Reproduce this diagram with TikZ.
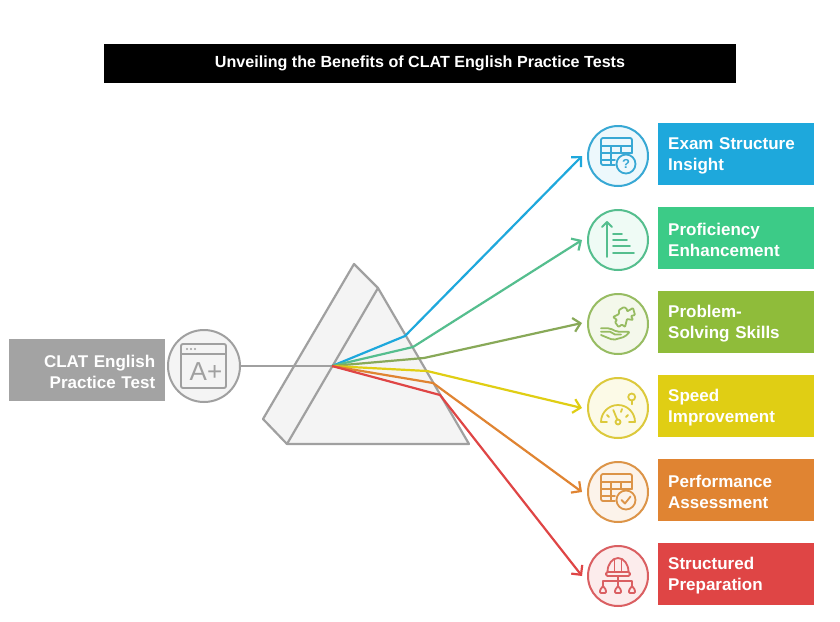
\documentclass[tikz,border=0pt]{standalone}
\usepackage{fontspec}
\setmainfont{Liberation Sans}
\usetikzlibrary{arrows.meta}

\definecolor{bluebar}{HTML}{1EA8DC}
\definecolor{greenbar}{HTML}{3CCB87}
\definecolor{olivebar}{HTML}{8FBC3A}
\definecolor{yellowbar}{HTML}{E0CE14}
\definecolor{orangebar}{HTML}{E08432}
\definecolor{redbar}{HTML}{DF4545}
\definecolor{greybar}{HTML}{A3A3A3}
\definecolor{greyline}{HTML}{A0A0A0}
\definecolor{prismfill}{HTML}{F4F4F4}
\definecolor{bluepen}{HTML}{38A8D4}
\definecolor{greenpen}{HTML}{55BE8E}
\definecolor{olivepen}{HTML}{97BC62}
\definecolor{yellowpen}{HTML}{DCC93C}
\definecolor{orangepen}{HTML}{DC9448}
\definecolor{redpen}{HTML}{DA5F62}

\tikzset{
	bar/.style={anchor=north west,minimum width=156,minimum height=62,inner xsep=10,inner ysep=0,text width=136,align=left,text=white,font=\fontsize{17}{21}\selectfont\bfseries,execute at begin node={\rule{0pt}{15.5pt}}},
	disc/.style={circle,line width=2,minimum size=60,inner sep=0},
	ray/.style={line width=2.2,line join=round},
	tipped/.style={ray,-{Straight Barb[length=7,width=14]}},
	icon/.style={line width=1.8,line join=round,line cap=round},
	prismline/.style={greyline,line width=2.2,line join=round},
}

\newcommand{\tablepic}[1]{
	\draw[icon,#1,rounded corners=2] (14,-3) -- (14,-18) -- (-17,-18) -- (-17,9) -- (-3,9);
	\draw[icon,#1] (-17,-10) -- (14,-10) (-17,-3) -- (14,-3) (-17,4) -- (-3,4) (-7,-10) -- (-7,9) (3,-10) -- (3,-3);
	\draw[icon,#1] (8,8) circle (9.5);
}

\begin{document}
\begin{tikzpicture}[x=1pt,y=-1pt]
	\useasboundingbox (0,0) rectangle (840,621);
	\fill[white] (0,0) rectangle (840,621);

	\node[fill=black,text=white,minimum width=632,minimum height=39,inner sep=0,font=\fontsize{16.1}{18}\selectfont\bfseries] (title) at (420,63.5) {\raisebox{-1pt}{Unveiling the Benefits of CLAT English Practice Tests}};

	% prism
	\coordinate (backtop) at (354,264);
	\coordinate (fronttop) at (378,288);
	\coordinate (frontright) at (469,444);
	\coordinate (frontleft) at (287,444);
	\coordinate (backleft) at (263,419);
	\coordinate (focus) at (332,366);
	\filldraw[prismline,fill=prismfill] (backtop) -- (fronttop) -- (frontright) -- (frontleft) -- (backleft) -- cycle;
	\draw[prismline] (fronttop) -- (frontleft);

	% input
	\node[bar,fill=greybar,align=right] (inputbar) at (9,339) {CLAT English\\Practice Test};
	\node[disc,draw=greyline,fill=prismfill,minimum size=72] (inputdisc) at (204,366) {};
	\draw[prismline] (inputdisc) -- (focus);
	\draw[icon,greyline,line width=1.9,rounded corners=2] (181,344) rectangle (226,388);
	\draw[icon,greyline,line width=1.9] (181,354) -- (226,354);
	\fill[greyline] (187,349) circle (1.2) (191,349) circle (1.2) (195,349) circle (1.2);
	\node[text=greyline,inner sep=0,font=\fontsize{26}{26}\selectfont] (grade) at (206,372) {A+};

	% rays
	\coordinate (bendblue) at (405,336);
	\coordinate (bendgreen) at (413,347);
	\coordinate (bendolive) at (424,358);
	\coordinate (bendyellow) at (427,371);
	\coordinate (bendorange) at (433,383);
	\coordinate (bendred) at (440,395);
	\coordinate (tipblue) at (582,156);
	\coordinate (tipgreen) at (582,240);
	\coordinate (tipolive) at (582,323);
	\coordinate (tipyellow) at (582,408);
	\coordinate (tiporange) at (582,492);
	\coordinate (tipred) at (582,576);
	\draw[tipped,bluebar] (focus) -- (bendblue) -- (tipblue);
	\draw[tipped,greenpen] (focus) -- (bendgreen) -- (tipgreen);
	\draw[tipped,olivepen!90!black] (focus) -- (bendolive) -- (tipolive);
	\draw[tipped,yellowbar] (focus) -- (bendyellow) -- (tipyellow);
	\draw[tipped,orangebar] (focus) -- (bendorange) -- (tiporange);
	\draw[tipped,redbar] (focus) -- (bendred) -- (tipred);

	% circles
	\node[disc,draw=bluepen,fill=bluebar!8] (discblue) at (618,156) {};
	\node[disc,draw=greenpen,fill=greenbar!8] (discgreen) at (618,240) {};
	\node[disc,draw=olivepen,fill=olivebar!10] (discolive) at (618,324) {};
	\node[disc,draw=yellowpen,fill=yellowbar!10] (discyellow) at (618,408) {};
	\node[disc,draw=orangepen,fill=orangebar!10] (discorange) at (618,492) {};
	\node[disc,draw=redpen,fill=redbar!10] (discred) at (618,576) {};

	% bars
	\node[bar,fill=bluebar] (barblue) at (658,123) {Exam Structure\\Insight};
	\node[bar,fill=greenbar] (bargreen) at (658,207) {Proficiency\\Enhancement};
	\node[bar,fill=olivebar] (barolive) at (658,291) {Problem-\\Solving Skills};
	\node[bar,fill=yellowbar] (baryellow) at (658,375) {Speed\\Improvement};
	\node[bar,fill=orangebar] (barorange) at (658,459) {Performance\\Assessment};
	\node[bar,fill=redbar] (barred) at (658,543) {Structured\\Preparation};

	% exam structure icon
	\begin{scope}[shift={(618,156)}]
		\tablepic{bluepen}
		\node[text=bluepen,inner sep=0,font=\fontsize{13}{13}\selectfont\bfseries] (query) at (8,8) {?};
	\end{scope}

	% proficiency icon
	\begin{scope}[shift={(618,240)},icon,greenpen]
		\draw (-11,17) -- (-11,-18);
		\draw (-16,-13) -- (-11,-18) -- (-6,-13);
		\draw (-5,-6) -- (4,-6) (-5,0) -- (9,0) (-5,6) -- (12,6) (-5,13) -- (16,13);
	\end{scope}

	% problem solving icon
	\begin{scope}[shift={(618,324)},icon,olivepen]
		\draw[rounded corners=0.8] (-5,-7) -- (1,-10) -- (1,-14) -- (6,-17) -- (9,-15) -- (9,-12.5) -- (15,-16) -- (17,-9) -- (13,-8) -- (15,-4) -- (9,-5) -- (7,3) -- (4,0.5) -- (0.5,3) -- (-3,-2) -- (-1,-4) -- cycle;
		\draw[rounded corners=2] (-17,4.3) -- (-8,4.3) -- (-1.3,7.7) -- (12,7.7) -- (7,12.7) -- (-4.7,16) -- (-13,12.7) -- (-17,11);
		\draw (-17,7.7) -- (-8,7.7) -- (-3,10.5) -- (3,10.5);
	\end{scope}

	% speed icon
	\begin{scope}[shift={(618,408)},icon,yellowpen]
		\draw (-17,14) arc (180:360:17);
		\draw (-17,14) -- (-11,14) (11,14) -- (17,14);
		\draw (-4.7,2) -- (-0.8,11.5);
		\draw (0,14) circle (2.5);
		\draw (4,1) -- (3,4) (10,7) -- (8,9) (-11,7) -- (-9,9);
		\draw (13.7,-11) circle (3.5);
		\draw (13.7,-7.5) -- (13.7,-3.7);
	\end{scope}

	% performance icon
	\begin{scope}[shift={(618,492)}]
		\tablepic{orangepen}
		\draw[icon,orangepen] (3.5,8) -- (7,11.5) -- (12.5,4.5);
	\end{scope}

	% preparation icon
	\begin{scope}[shift={(618,576)},icon,redpen]
		\draw (-10.5,-4) arc (180:360:10.5 and 14);
		\draw (-3.5,-4) -- (-3.5,-17) (3.5,-4) -- (3.5,-17);
		\draw[rounded corners=1.5] (-12,-4) rectangle (12,0);
		\draw (0,0) -- (0,10) (-15,10) -- (-15,5) -- (14,5) -- (14,10);
		\draw[rounded corners=1] (-18,17) -- (-18,14) -- (-15,10) -- (-12,14) -- (-12,17) -- cycle;
		\draw[rounded corners=1] (-3,17) -- (-3,14) -- (0,10) -- (3,14) -- (3,17) -- cycle;
		\draw[rounded corners=1] (11,17) -- (11,14) -- (14,10) -- (17,14) -- (17,17) -- cycle;
	\end{scope}
\end{tikzpicture}
\end{document}
